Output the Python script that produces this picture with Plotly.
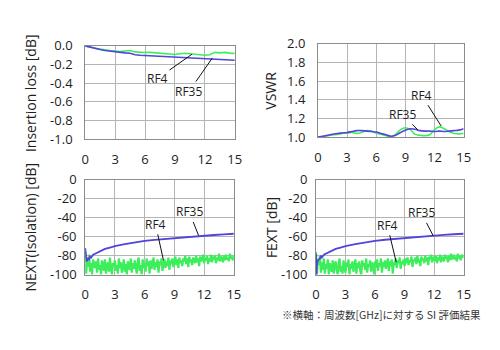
import plotly.graph_objects as go

# ---------------- data ----------------
freq_half = [0, 0.5, 1, 1.5, 2, 2.5, 3, 3.5, 4, 4.5, 5, 5.5, 6, 6.5, 7, 7.5, 8, 8.5,
             9, 9.5, 10, 10.5, 11, 11.5, 12, 12.5, 13, 13.5, 14, 14.5, 15]

il_rf4 = [0, -0.015, -0.025, -0.035, -0.045, -0.05, -0.055, -0.06, -0.055, -0.05, -0.065,
          -0.07, -0.072, -0.07, -0.075, -0.08, -0.085, -0.088, -0.092, -0.085, -0.08, -0.085,
          -0.09, -0.095, -0.1, -0.095, -0.07, -0.075, -0.07, -0.078, -0.082]
il_rf35 = [0, -0.015, -0.03, -0.04, -0.05, -0.058, -0.065, -0.07, -0.075, -0.08, -0.095,
           -0.1, -0.103, -0.105, -0.108, -0.11, -0.115, -0.12, -0.123, -0.125, -0.128, -0.13,
           -0.133, -0.135, -0.138, -0.14, -0.14, -0.145, -0.148, -0.15, -0.155]

vswr_rf4 = [1.0, 1.005, 1.015, 1.025, 1.03, 1.04, 1.045, 1.05, 1.04, 1.05, 1.07, 1.065,
            1.045, 1.03, 1.015, 1.005, 1.03, 1.08, 1.1, 1.08, 1.03, 1.02, 1.015, 1.025,
            1.08, 1.11, 1.09, 1.06, 1.04, 1.035, 1.04]
vswr_rf35 = [1.0, 1.01, 1.02, 1.03, 1.04, 1.045, 1.05, 1.06, 1.07, 1.07, 1.065, 1.06,
             1.055, 1.04, 1.025, 1.01, 1.02, 1.05, 1.075, 1.09, 1.085, 1.07, 1.065, 1.065,
             1.06, 1.065, 1.06, 1.065, 1.07, 1.075, 1.09]

freq_fine = [round(i * 0.1, 1) for i in range(151)]

next_rf4 = [-75, -99, -82, -92, -79, -97, -88, -100, -84, -91,
            -93, -86, -98, -83, -95, -90, -100, -85, -89, -96,
            -84, -99, -91, -87, -97, -82, -94, -100, -88, -92,
            -85, -96, -90, -99, -83, -93, -87, -98, -92, -84,
            -97, -89, -100, -86, -91, -95, -83, -98, -88, -94,
            -85, -92, -99, -87, -82, -96, -90, -100, -84, -93,
            -88, -97, -83, -91, -86, -99, -85, -94, -89, -82,
            -95, -87, -92, -84, -98, -86, -90, -83, -96, -88,
            -84, -93, -86, -91, -82, -95, -85, -89, -83, -92,
            -87, -81, -90, -84, -93, -82, -88, -85, -91, -83,
            -86, -80, -89, -83, -92, -81, -87, -84, -90, -82,
            -85, -88, -80, -87, -83, -91, -81, -86, -84, -79,
            -88, -82, -85, -80, -89, -83, -86, -79, -87, -81,
            -84, -80, -88, -82, -85, -78, -86, -81, -83, -87,
            -80, -85, -79, -84, -82, -86, -78, -83, -81, -85,
            -80]

fext_rf4 = [-76, -100, -84, -90, -80, -98, -87, -95, -83, -99,
            -89, -94, -84, -100, -88, -92, -97, -85, -99, -90,
            -86, -95, -100, -88, -83, -97, -91, -99, -85, -93,
            -98, -87, -92, -84, -100, -89, -94, -86, -97, -90,
            -84, -99, -88, -93, -86, -96, -100, -85, -91, -88,
            -95, -83, -98, -89, -92, -85, -97, -87, -90, -100,
            -86, -93, -84, -96, -88, -91, -83, -98, -87, -92,
            -85, -94, -88, -83, -96, -86, -91, -84, -99, -87,
            -90, -83, -93, -85, -88, -82, -94, -86, -89, -84,
            -91, -83, -88, -82, -90, -85, -87, -81, -92, -84,
            -86, -82, -89, -80, -87, -84, -91, -81, -85, -83,
            -88, -80, -86, -82, -90, -81, -84, -79, -87, -83,
            -81, -86, -80, -88, -82, -85, -79, -87, -81, -84,
            -86, -79, -83, -81, -87, -80, -85, -78, -84, -82,
            -79, -84, -81, -86, -78, -83, -80, -85, -79, -82,
            -80]

freq_xt = [0, 0.05, 0.1, 0.15, 0.2, 0.3, 0.4, 0.5, 0.6, 0.8, 1.0, 1.2, 1.5, 2, 2.5,
           3, 4, 5, 6, 7, 8, 9, 10, 11, 12, 13, 14, 15]
next_rf35 = [-72, -78, -83, -86, -85, -83, -84, -81, -82, -79, -78, -77, -75, -73, -71.5,
             -70, -68, -66, -64.5, -63.5, -62.5, -61.5, -60.5, -59.8, -59, -58.3, -57.6, -57]
fext_rf35 = [-78, -100, -88, -86, -85, -84, -83, -80, -82, -79, -78, -77, -75, -73, -71.5,
             -70, -68, -66, -64.5, -63.3, -62.3, -61.3, -60.4, -59.6, -58.8, -58.1, -57.5, -57]

x_ticks = [0, 3, 6, 9, 12, 15]

GREEN = "#3cef5a"
BLUE = "#5243dc"
FONT = "Open Sans"
TXT = "#1e1e1e"

fig = go.Figure()

def add(x, y, color, xa, ya, shape="linear", width=1.6):
    fig.add_trace(go.Scatter(x=x, y=y, mode="lines", xaxis=xa, yaxis=ya,
                             line=dict(color=color, width=width, shape=shape),
                             showlegend=False, hoverinfo="skip"))

add(freq_half, il_rf4, GREEN, "x", "y")
add(freq_half, il_rf35, BLUE, "x", "y")
add(freq_half, vswr_rf4, GREEN, "x2", "y2", "spline")
add(freq_half, vswr_rf35, BLUE, "x2", "y2", "spline")
add(freq_fine, next_rf4, GREEN, "x3", "y3", width=2.2)
add(freq_xt, next_rf35, BLUE, "x3", "y3", width=1.8)
add(freq_fine, fext_rf4, GREEN, "x4", "y4", width=2.2)
add(freq_xt, fext_rf35, BLUE, "x4", "y4", width=1.8)

def xaxis(domain, anchor):
    return dict(domain=domain, anchor=anchor, range=[0, 15], tickvals=x_ticks,
                showgrid=True, gridcolor="#b4b4b4", gridwidth=1, zeroline=False,
                showline=True, linecolor="#8c8c8c", linewidth=1, mirror=True,
                ticks="", ticklabelstandoff=8,
                tickfont=dict(family=FONT, size=13, color=TXT))

def yaxis(domain, anchor, rng, tickvals, ticktext, standoff):
    return dict(domain=domain, anchor=anchor, range=rng, tickvals=tickvals, ticktext=ticktext,
                showgrid=True, gridcolor="#b4b4b4", gridwidth=1, zeroline=False,
                showline=True, linecolor="#8c8c8c", linewidth=1, mirror=True,
                ticks="", ticklabelstandoff=standoff,
                tickfont=dict(family=FONT, size=13, color=TXT))

il_ticks = [0.0, -0.2, -0.4, -0.6, -0.8, -1.0]
vswr_ticks = [1.0, 1.2, 1.4, 1.6, 1.8, 2.0]
xt_ticks = [0, -20, -40, -60, -80, -100]

fig.update_layout(
    width=500, height=350, margin=dict(l=0, r=0, t=0, b=0),
    paper_bgcolor="white", plot_bgcolor="white",
    xaxis=xaxis([0.166, 0.472], "y"),
    yaxis=yaxis([0.608, 0.889], "x", [-1.0, 0.0], il_ticks, [f"{v:.1f}" for v in il_ticks], 9),
    xaxis2=xaxis([0.642, 0.940], "y2"),
    yaxis2=yaxis([0.614, 0.895], "x2", [1.0, 2.0], vswr_ticks, [f"{v:.1f}" for v in vswr_ticks], 9),
    xaxis3=xaxis([0.166, 0.470], "y3"),
    yaxis3=yaxis([0.200, 0.486], "x3", [-100, 0], xt_ticks, [str(v) for v in xt_ticks], 5),
    xaxis4=xaxis([0.638, 0.940], "y4"),
    yaxis4=yaxis([0.200, 0.486], "x4", [-100, 0], xt_ticks, [str(v) for v in xt_ticks], 5),
)

# y-axis titles
titles = [("Insertion loss [dB]", 27 / 500, 0.748),
          ("VSWR", 273 / 500, 0.754),
          ("NEXT(Isolation) [dB]", 27 / 500, 0.343),
          ("FEXT [dB]", 273 / 500, 0.343)]
for t, x, y in titles:
    fig.add_annotation(text=t, x=x, y=y, xref="paper", yref="paper", showarrow=False,
                       textangle=-90, xanchor="center", yanchor="middle",
                       font=dict(family=FONT, size=14, color=TXT))

# series labels with leader lines
labels = [("RF4", "x", "y", 10.7, -0.09, 7.25, -0.35),
          ("RF35", "x", "y", 12.75, -0.13, 10.4, -0.49),
          ("RF4", "x2", "y2", 12.68, 1.12, 10.67, 1.45),
          ("RF35", "x2", "y2", 10.27, 1.08, 8.66, 1.243),
          ("RF4", "x3", "y3", 7.9, -85, 7.1, -47),
          ("RF35", "x3", "y3", 11.45, -59, 10.5, -34),
          ("RF4", "x4", "y4", 8.15, -87, 7.25, -48),
          ("RF35", "x4", "y4", 11.9, -59, 10.7, -35)]
for t, xa, ya, hx, hy, tx, ty in labels:
    fig.add_annotation(text=t, x=hx, y=hy, xref=xa, yref=ya, ax=tx, ay=ty,
                       axref=xa, ayref=ya, showarrow=True, arrowhead=0, arrowwidth=1,
                       arrowcolor="#111111",
                       font=dict(family=FONT, size=12, color=TXT))

fig.add_annotation(text="※横軸：周波数[GHz]に対する SI 評価結果", x=386 / 500, y=1 - 322 / 350,
                   xref="paper", yref="paper", showarrow=False, xanchor="center",
                   yanchor="middle",
                   font=dict(family="Noto Sans CJK JP", size=10.5, color="#333333"))

fig.write_html("out.html")
